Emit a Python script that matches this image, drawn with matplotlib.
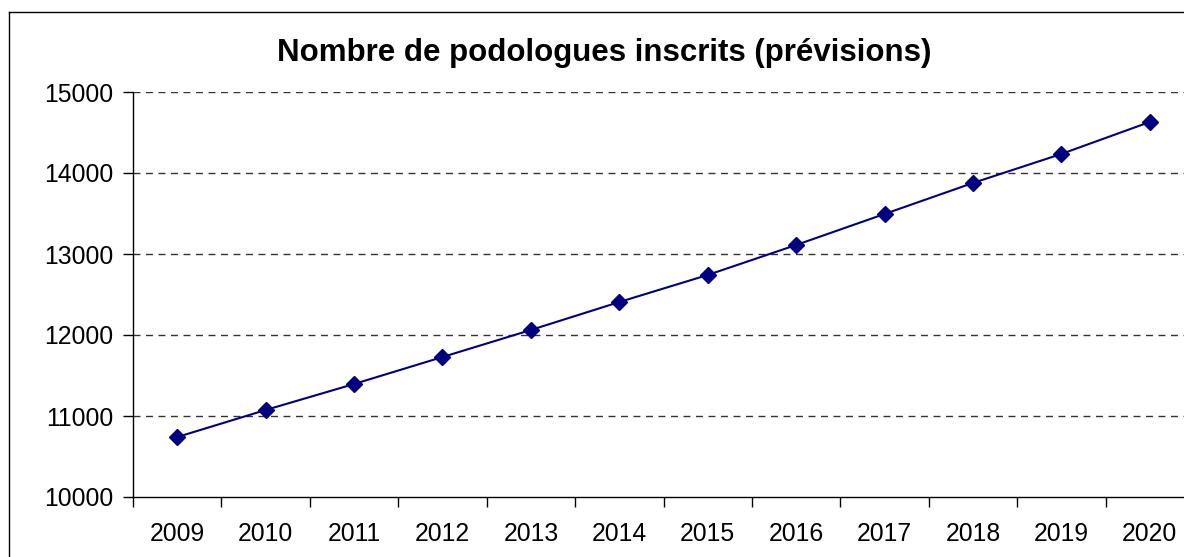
import numpy as np
import matplotlib.pyplot as plt
from matplotlib.lines import Line2D

# donnees
annees = ['2009', '2010', '2011', '2012', '2013', '2014',
          '2015', '2016', '2017', '2018', '2019', '2020']
inscrits = [10740, 11074, 11395, 11728, 12062, 12407,
            12741, 13111, 13494, 13877, 14235, 14630]
yticks = [10000, 11000, 12000, 13000, 14000, 15000]

plt.rcParams['font.family'] = ['Liberation Sans', 'DejaVu Sans']

fig = plt.figure(figsize=(11.84, 5.57), dpi=100)
ax = fig.add_axes([133/1184, 1 - 497/557, 1061/1184, 405/557])

x = np.arange(len(annees))
ax.plot(x, inscrits, color='#000080', lw=1.5, marker='D', ms=8,
        markerfacecolor='#000080', markeredgecolor='#000080', zorder=3)

ax.set_xlim(-0.5, len(annees) - 0.5)
ax.set_ylim(10000, 15000)
ax.set_yticks(yticks)
ax.set_yticklabels([str(v) for v in yticks])
ax.set_xticks(x)
ax.set_xticklabels(annees)
ax.set_xticks(np.arange(len(annees) + 1) - 0.5, minor=True)
ax.tick_params(axis='x', which='major', length=0, pad=18, labelsize=17.8)
ax.tick_params(axis='x', which='minor', length=7, width=1, direction='out')
ax.tick_params(axis='y', length=7, width=1, pad=7, labelsize=17.8)

for v in yticks[1:]:
    ax.axhline(v, color='#333333', lw=1, ls=(0, (5, 4)), zorder=1)

for side in ['top', 'right']:
    ax.spines[side].set_visible(False)
ax.spines['left'].set_linewidth(1)
ax.spines['bottom'].set_linewidth(1)

fig.text(604/1184, 1 - 53/557, 'Nombre de podologues inscrits (prévisions)',
         ha='center', va='center', fontsize=22.5, fontweight='bold')

# cadre exterieur du graphique (gauche et haut seulement visibles)
haut = 1 - 11.5/557
gauche = 8.5/1184
fig.add_artist(Line2D([gauche, gauche], [0, haut], transform=fig.transFigure,
                      color='black', lw=1))
fig.add_artist(Line2D([gauche, 1.01], [haut, haut], transform=fig.transFigure,
                      color='black', lw=1))

fig.savefig('out.png', dpi=100)
